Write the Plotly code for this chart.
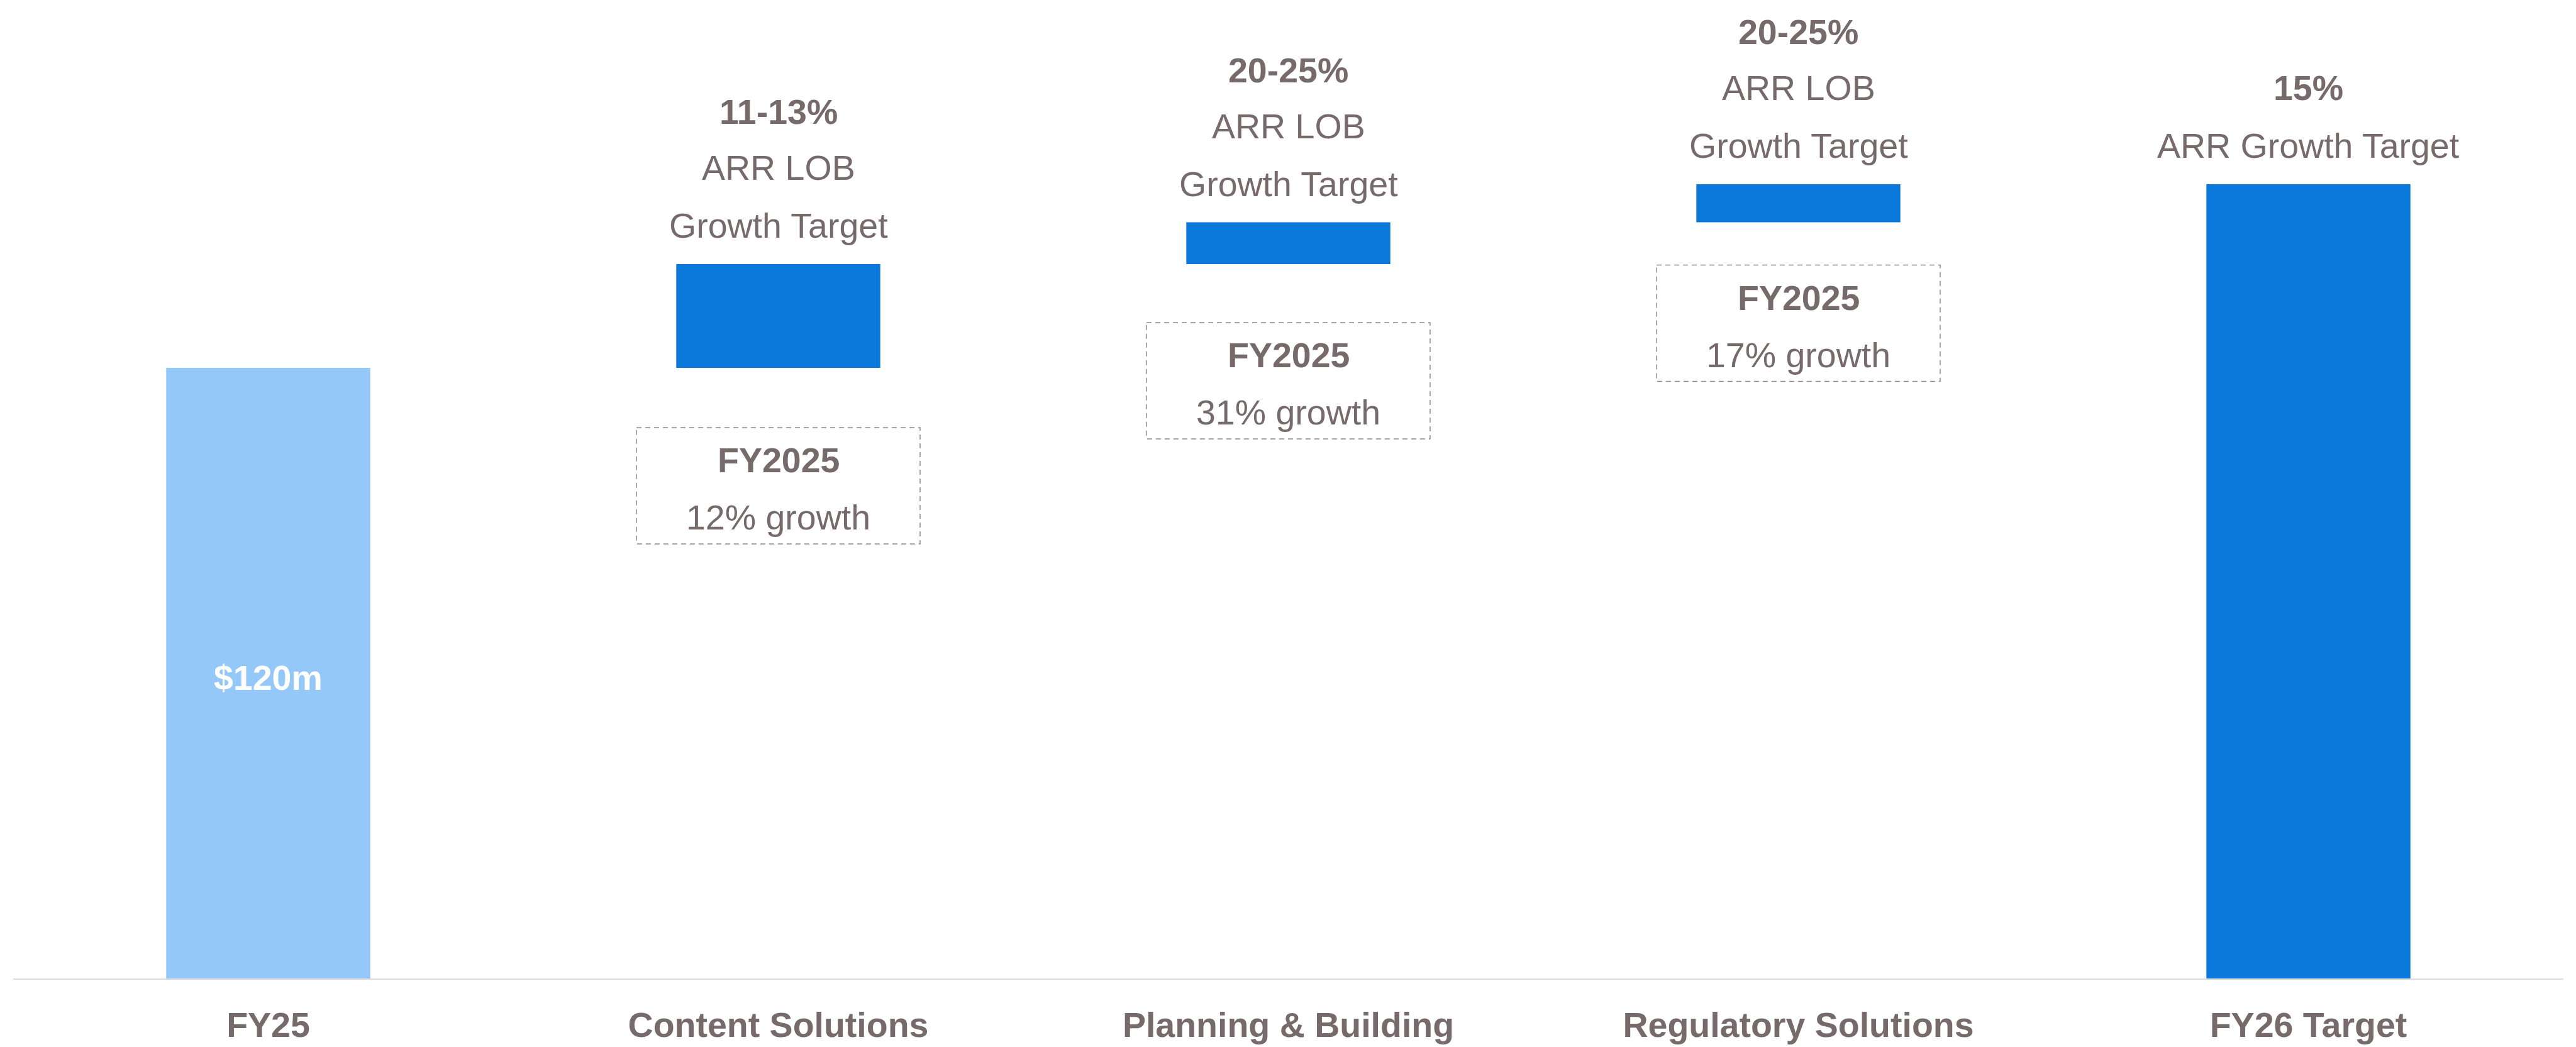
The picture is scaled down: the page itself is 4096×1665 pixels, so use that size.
import plotly.graph_objects as go

# ---------------- data ----------------
categories = ["FY25", "Content Solutions", "Planning & Building", "Regulatory Solutions", "FY26 Target"]
values = [120, 20.4, 8.2, 7.5, 156.1]
measures = ["absolute", "relative", "relative", "relative", "total"]
bar_label = ["$120m", None, None, None, None]

target_pct = [None, "11-13%", "20-25%", "20-25%", "15%"]
target_line2 = [None, "ARR LOB", "ARR LOB", "ARR LOB", None]
target_line3 = [None, "Growth Target", "Growth Target", "Growth Target", "ARR Growth Target"]

fy_box_title = [None, "FY2025", "FY2025", "FY2025", None]
fy_box_growth = [None, "12% growth", "31% growth", "17% growth", None]

# ---------------- style ----------------
W, H = 4096, 1665
FONT = "Liberation Sans, Arial, Helvetica, sans-serif"
TXT = "#766a6b"
LIGHT = "#94c8f8"
DARK = "#0b78db"
FS = 55.5
Y_MAX = 192.3
BAR_W = 0.4
BOX_HALF = 0.278
box_top_offset = [None, 95, 93, 68]   # px below bar base
BOX_H = 185
line_offsets = [242, 153, 61]          # px above bar top

# waterfall geometry from data
bases, tops = [], []
running = 0.0
for v, m in zip(values, measures):
    if m == "absolute":
        b = 0.0
        running = v
        t = v
    elif m == "relative":
        b = running
        running += v
        t = running
    else:
        b = 0.0
        t = v
    bases.append(b)
    tops.append(t)
heights = [t - b for t, b in zip(tops, bases)]
colors = [LIGHT if m == "absolute" else DARK for m in measures]

fig = go.Figure()
fig.add_trace(go.Bar(
    x=categories, y=heights, base=bases, width=BAR_W,
    marker=dict(color=colors, line=dict(width=0)),
    hoverinfo="skip", showlegend=False,
))

annotations = []
shapes = []
for i, cat in enumerate(categories):
    if bar_label[i]:
        annotations.append(dict(
            x=i, y=(bases[i] + tops[i]) / 2, xref="x", yref="y", text=bar_label[i],
            showarrow=False, yshift=-7, yanchor="middle", xanchor="center",
            font=dict(family=FONT, size=FS, color="white", weight="bold"),
        ))
    lines = [target_pct[i], target_line2[i], target_line3[i]]
    present = [l for l in lines if l]
    if present:
        offs = line_offsets[-len(present):]
        for j, (txt, off) in enumerate(zip(present, offs)):
            bold = (j == 0)
            annotations.append(dict(
                x=i, y=tops[i], xref="x", yref="y", text=txt, showarrow=False,
                yshift=off, yanchor="middle", xanchor="center",
                font=dict(family=FONT, size=FS, color=TXT, weight="bold" if bold else "normal"),
            ))
    if fy_box_title[i]:
        top_off = box_top_offset[i]
        shapes.append(dict(
            type="rect", xref="x", yref="y", ysizemode="pixel", yanchor=bases[i],
            x0=i - BOX_HALF, x1=i + BOX_HALF, y0=-top_off, y1=-(top_off + BOX_H),
            line=dict(color="#8c8c8c", width=1.5, dash="8px,6px"), fillcolor="rgba(0,0,0,0)",
        ))
        annotations.append(dict(
            x=i, y=bases[i], xref="x", yref="y", text=fy_box_title[i], showarrow=False,
            yshift=-(top_off + 52), yanchor="middle", xanchor="center",
            font=dict(family=FONT, size=FS, color=TXT, weight="bold"),
        ))
        annotations.append(dict(
            x=i, y=bases[i], xref="x", yref="y", text=fy_box_growth[i], showarrow=False,
            yshift=-(top_off + 143), yanchor="middle", xanchor="center",
            font=dict(family=FONT, size=FS, color=TXT),
        ))

fig.update_layout(
    width=W, height=H,
    margin=dict(l=21, r=20, t=0, b=109),
    paper_bgcolor="white", plot_bgcolor="white",
    font=dict(family=FONT, color=TXT),
    bargap=0.6,
    annotations=annotations, shapes=shapes,
    xaxis=dict(
        type="category", range=[-0.5, 4.5], showgrid=False, zeroline=False,
        showline=True, linecolor="#dddddd", linewidth=1.5,
        ticks="", ticklabelstandoff=25,
        tickfont=dict(family=FONT, size=FS, color=TXT, weight="bold"),
    ),
    yaxis=dict(range=[0, Y_MAX], visible=False, showgrid=False, zeroline=False),
)

fig.write_html(
    "out.html",
    config={"displayModeBar": False},
    post_script="document.body.style.margin='0';document.body.style.overflow='hidden';",
)
